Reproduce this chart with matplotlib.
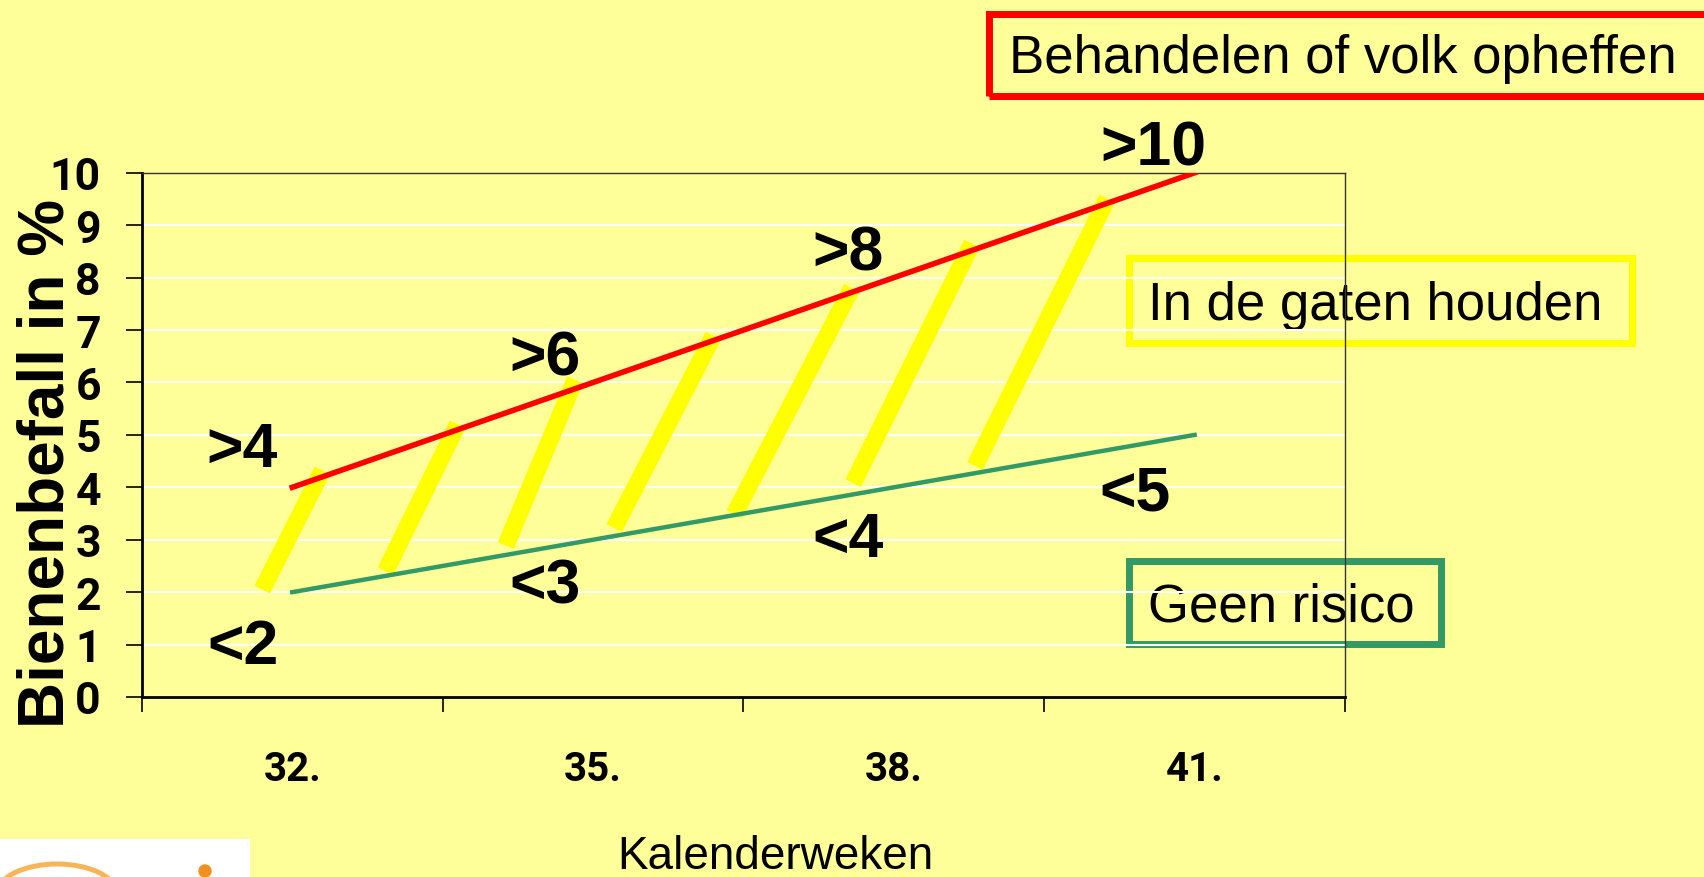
import numpy as np
import matplotlib.pyplot as plt
from matplotlib.patches import Rectangle, Arc, Ellipse

plt.rcParams['font.family'] = ['Liberation Sans', 'DejaVu Sans']

# Kalenderweken en grenswaarden bienenbefall (%)
weeks = ['32.', '35.', '38.', '41.']
upper = [4, 6, 8, 10]
lower = [2, 3, 4, 5]

# schuine gele strepen tussen de lijnen (week-index, %)
stripe_x0 = [-0.10, 0.31, 0.71, 1.07, 1.47, 1.865, 2.27]
stripe_y0 = [2.05, 2.40, 2.89, 3.22, 3.49, 4.08, 4.41]
stripe_x1 = [0.10, 0.55, 0.94, 1.40, 1.86, 2.26, 2.71]
stripe_y1 = [4.32, 5.20, 6.05, 6.89, 7.80, 8.65, 9.51]

# verschuiving (pixels) van de labels t.o.v. de punten
up_off = [(-50, 21), (-48, 8), (-46, 8), (-41, 8)]
low_off = [(-49, -71), (-48, -63), (-46, -69), (-60, -75)]

W, H = 1704, 878
BG = '#FFFF99'
TICKFONT = ['Roboto', 'DejaVu Sans']


def fx(px):
    return px / W


def fy(py):
    return 1 - py / H


fig = plt.figure(figsize=(W / 100, H / 100), dpi=100, facecolor=BG)
ax = fig.add_axes([fx(141.9), fy(698), (1345 - 141.9) / W, (698 - 173.8) / H])
ax.set_facecolor('none')

x = np.arange(len(weeks))
for a, b, c, d in zip(stripe_x0, stripe_y0, stripe_x1, stripe_y1):
    ax.plot([a, c], [b, d], color='#FFFF00', lw=12.5, solid_capstyle='butt', zorder=2)
ax.plot(x, upper, color='#FF0000', lw=4, zorder=3)
ax.plot(x, lower, color='#339966', lw=3.2, zorder=3)

# labels >4, >6 ... en <2, <3 ...
for i in x:
    ax.annotate(f'>{upper[i]}', (i, upper[i]), xytext=up_off[i], textcoords='offset pixels',
                ha='center', va='baseline', fontsize=45, fontweight='bold', annotation_clip=False)
    ax.annotate(f'<{lower[i]}', (i, lower[i]), xytext=low_off[i], textcoords='offset pixels',
                ha='center', va='baseline', fontsize=45, fontweight='bold', annotation_clip=False)

ax.set_xlim(-0.5, 3.5)
ax.set_ylim(0, 10)
ax.set_yticks(range(11))
ax.set_yticklabels([str(v) for v in range(11)], fontsize=32, fontweight='bold', family=TICKFONT)
ax.set_xticks(x)
ax.set_xticklabels(weeks, fontsize=29, fontweight='bold', family=TICKFONT)
ax.set_xticks(np.arange(-0.5, len(weeks), 1), minor=True)
ax.tick_params(axis='x', which='major', length=0, pad=38)
ax.tick_params(axis='x', which='minor', length=11, width=1.2, direction='out')
ax.tick_params(axis='y', length=11.5, width=1.2, pad=18)
ax.set_axisbelow(True)
ax.grid(axis='y', color='white', lw=1.5)
for s in ['top', 'right']:
    ax.spines[s].set_linewidth(1)
    ax.spines[s].set_color('#333333')
for s in ['left', 'bottom']:
    ax.spines[s].set_linewidth(2)

ax.set_ylabel('Bienenbefall in %', fontsize=46, fontweight='bold', va='baseline')
ax.yaxis.set_label_coords((63 - 141.9) / 1203.1, 0.447)
fig.text(fx(775), fy(869), 'Kalenderweken', fontsize=33, ha='center', va='baseline')

# kaders met toelichting
boxes = [
    ('Behandelen of volk opheffen', '#FF0000', 989.5, 14.5, 1720, 96.5, 73),
    ('In de gaten houden', '#FFFF00', 1128.5, 258.5, 1631.5, 343.5, 320),
    ('Geen risico', '#339966', 1128.5, 561.5, 1440.5, 644.5, 622),
]
for txt, col, x0, y0, x1, y1, base in boxes:
    fig.add_artist(Rectangle((fx(x0), fy(y1)), (x1 - x0) / W, (y1 - y0) / H,
                             transform=fig.transFigure, fill=False, ec=col, lw=5, zorder=-1))
    fig.text(fx(x0 + 19), fy(base), txt, fontsize=38, ha='left', va='baseline', zorder=-1)

# logo linksonder (afgesneden)
fig.add_artist(Rectangle((0, 0), fx(250), 38 / H, transform=fig.transFigure,
                         fc='white', ec='none', zorder=-2))
fig.add_artist(Arc((0.57, -0.17), 1.2, 0.6, theta1=0, theta2=180,
                   transform=fig.dpi_scale_trans, color='#F7B55A', lw=3.6, zorder=-1))
fig.add_artist(Ellipse((2.05, 0.06), 0.12, 0.12, transform=fig.dpi_scale_trans,
                       color='#F0901E', zorder=-1))

fig.savefig('out.png', dpi=100, facecolor=BG)
